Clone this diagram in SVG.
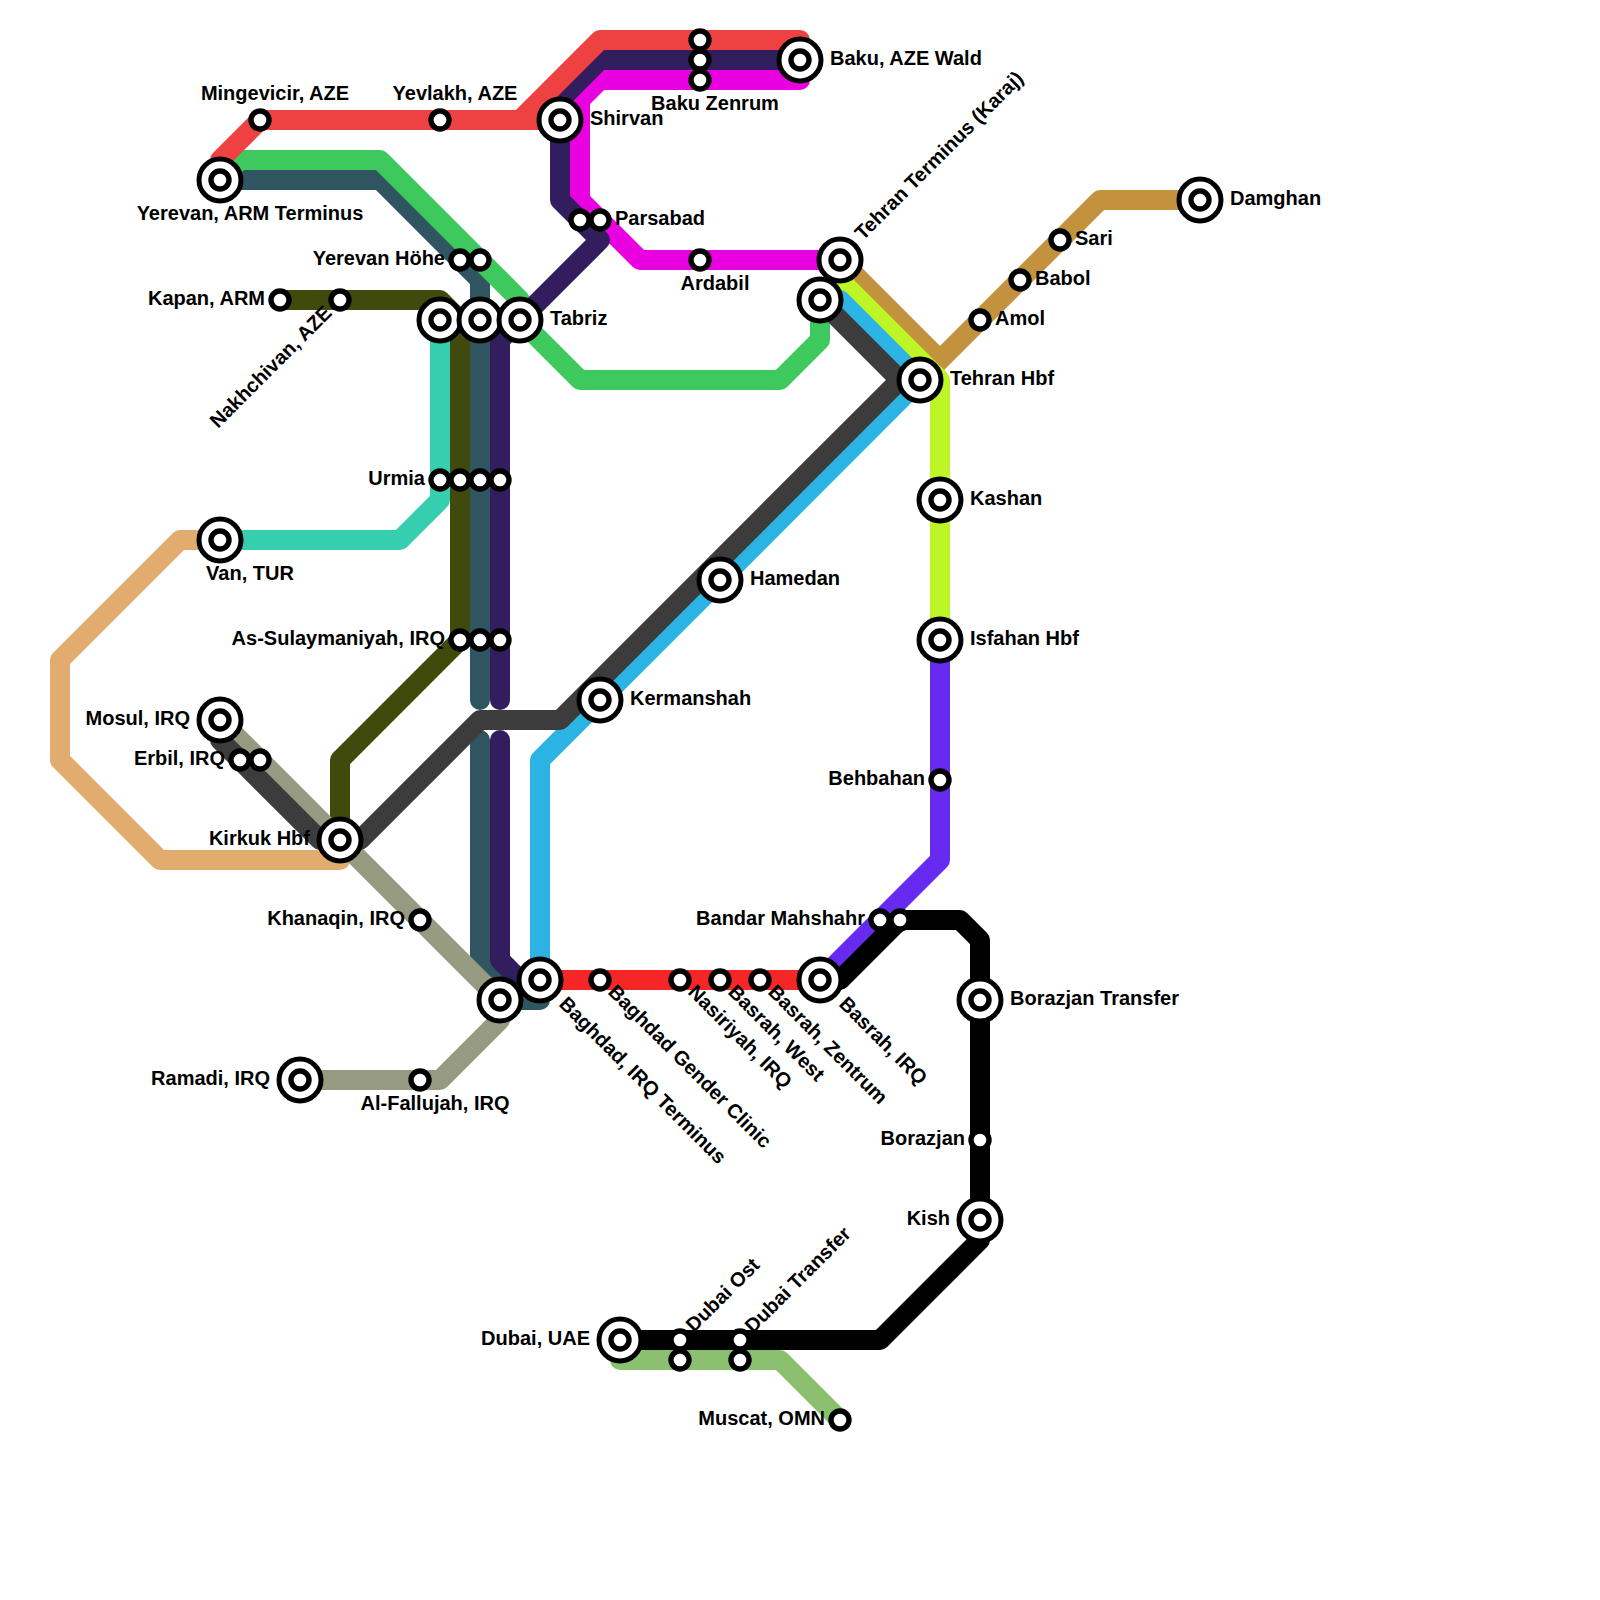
<svg xmlns="http://www.w3.org/2000/svg" width="1600" height="1600" viewBox="0 0 1600 1600">
<style>
.l{fill:none;stroke-width:20;stroke-linecap:round;stroke-linejoin:round}
.o{fill:#fff;stroke:#000;stroke-width:5}
.i{fill:#fff;stroke:#000;stroke-width:5.4}
text{font-family:"Liberation Sans",Arial,sans-serif;font-weight:700;font-size:20px;fill:#000}
.e{text-anchor:end}.c{text-anchor:middle}
</style>
<defs>
<g id="big"><circle class="o" r="21"/><circle class="i" r="9"/></g>
<circle id="small" class="i" r="9"/>
</defs>
<rect width="1600" height="1600" fill="#fff"/>
<g id="connectors">
<path class="l" stroke="#E2AC6E" d="M220 540H180L60 660V760L160 860H340V840"/>
<path class="l" stroke="#35CFAF" d="M440 320V500L400 540H220"/>
<path class="l" stroke="#E900E0" d="M800 60V80H600L580 100V200L640 260H840"/>
<path class="l" stroke="#2F5560" d="M220 180H380L480 280V700"/>
<path class="l" stroke="#2F5560" d="M480 740V960L520 1000H540V980"/>
<path class="l" stroke="#3EC95F" d="M220 180L240 160H380L520 300V320L580 380H780L820 340V300"/>
<path class="l" stroke="#321E5F" d="M800 60H600L560 100V200L600 240L520 320L500 340V700"/>
<path class="l" stroke="#321E5F" d="M500 740V960L520 980H540"/>
<path class="l" stroke="#EE4242" d="M220 180V160L260 120H560M520 120L600 40H800V60"/>
<path class="l" stroke="#3F4A0C" d="M280 300H440L460 320V640L340 760V840"/>
<path class="l" stroke="#959A80" d="M220 720L500 1000V1020L440 1080H300"/>
<path class="l" stroke="#C2923C" d="M840 260L940 360M920 380L1100 200H1200"/>
<path class="l" stroke="#BDF527" d="M840 260V280L920 360L940 380V640"/>
<path class="l" stroke="#2BB3E3" d="M540 980V760L920 380L840 300H820"/>
<path class="l" stroke="#3C3C3C" d="M220 740L320 840H360L480 720H560L900 380H920M820 300L900 380"/>
<path class="l" stroke="#672AF0" d="M940 640V860L820 980"/>
<path class="l" stroke="#F42626" d="M540 980H820"/>
<path class="l" stroke="#8BC06E" d="M620 1340V1360H780L840 1420"/>
<path class="l" stroke="#000" d="M820 980H840L900 920H960L980 940V1240L880 1340H620"/>
</g>
<g id="n-yerevan"><use href="#big" x="220" y="180"/><text x="250" y="220" class="c">Yerevan, ARM Terminus</text></g>
<g id="n-mingevicir"><use href="#small" x="260" y="120"/><text x="275" y="100" class="c">Mingevicir, AZE</text></g>
<g id="n-yevlakh"><use href="#small" x="440" y="120"/><text x="455" y="100" class="c">Yevlakh, AZE</text></g>
<g id="n-shirvan"><use href="#big" x="560" y="120"/><text x="590" y="125">Shirvan</text></g>
<g id="n-baku"><use href="#big" x="800" y="60"/><text x="830" y="65">Baku, AZE Wald</text></g>
<g id="n-baku-zenrum"><use href="#small" x="700" y="40"/><use href="#small" x="700" y="60"/><use href="#small" x="700" y="80"/><text x="715" y="110" class="c">Baku Zenrum</text></g>
<g id="n-parsabad"><use href="#small" x="580" y="220"/><use href="#small" x="600" y="220"/><text x="615" y="225">Parsabad</text></g>
<g id="n-ardabil"><use href="#small" x="700" y="260"/><text x="715" y="290" class="c">Ardabil</text></g>
<g id="n-yerevan-hohe"><use href="#small" x="460" y="260"/><use href="#small" x="480" y="260"/><text x="445" y="265" class="e">Yerevan Höhe</text></g>
<g id="n-kapan"><use href="#small" x="280" y="300"/><text x="265" y="305" class="e">Kapan, ARM</text></g>
<g id="n-nakhchivan"><use href="#small" x="340" y="300"/><text transform="translate(333 314) rotate(-45)" class="e">Nakhchivan, AZE</text></g>
<g id="n-tabriz-group"><use href="#big" x="440" y="320"/><use href="#big" x="480" y="320"/><use href="#big" x="520" y="320"/><text x="550" y="325">Tabriz</text></g>
<g id="n-tehran-terminus"><use href="#big" x="840" y="260"/><text transform="translate(863 241) rotate(-45)">Tehran Terminus (Karaj)</text></g>
<g id="n-tehran-2"><use href="#big" x="820" y="300"/></g>
<g id="n-tehran-hbf"><use href="#big" x="920" y="380"/><text x="950" y="385">Tehran Hbf</text></g>
<g id="n-amol"><use href="#small" x="980" y="320"/><text x="995" y="325">Amol</text></g>
<g id="n-babol"><use href="#small" x="1020" y="280"/><text x="1035" y="285">Babol</text></g>
<g id="n-sari"><use href="#small" x="1060" y="240"/><text x="1075" y="245">Sari</text></g>
<g id="n-damghan"><use href="#big" x="1200" y="200"/><text x="1230" y="205">Damghan</text></g>
<g id="n-kashan"><use href="#big" x="940" y="500"/><text x="970" y="505">Kashan</text></g>
<g id="n-isfahan"><use href="#big" x="940" y="640"/><text x="970" y="645">Isfahan Hbf</text></g>
<g id="n-hamedan"><use href="#big" x="720" y="580"/><text x="750" y="585">Hamedan</text></g>
<g id="n-kermanshah"><use href="#big" x="600" y="700"/><text x="630" y="705">Kermanshah</text></g>
<g id="n-behbahan"><use href="#small" x="940" y="780"/><text x="925" y="785" class="e">Behbahan</text></g>
<g id="n-urmia"><use href="#small" x="440" y="480"/><use href="#small" x="460" y="480"/><use href="#small" x="480" y="480"/><use href="#small" x="500" y="480"/><text x="425" y="485" class="e">Urmia</text></g>
<g id="n-sulaymaniyah"><use href="#small" x="460" y="640"/><use href="#small" x="480" y="640"/><use href="#small" x="500" y="640"/><text x="445" y="645" class="e">As-Sulaymaniyah, IRQ</text></g>
<g id="n-van"><use href="#big" x="220" y="540"/><text x="250" y="580" class="c">Van, TUR</text></g>
<g id="n-mosul"><use href="#big" x="220" y="720"/><text x="190" y="725" class="e">Mosul, IRQ</text></g>
<g id="n-erbil"><use href="#small" x="240" y="760"/><use href="#small" x="260" y="760"/><text x="225" y="765" class="e">Erbil, IRQ</text></g>
<g id="n-kirkuk"><use href="#big" x="340" y="840"/><text x="310" y="845" class="e">Kirkuk Hbf</text></g>
<g id="n-khanaqin"><use href="#small" x="420" y="920"/><text x="405" y="925" class="e">Khanaqin, IRQ</text></g>
<g id="n-ramadi"><use href="#big" x="300" y="1080"/><text x="270" y="1085" class="e">Ramadi, IRQ</text></g>
<g id="n-fallujah"><use href="#small" x="420" y="1080"/><text x="435" y="1110" class="c">Al-Fallujah, IRQ</text></g>
<g id="n-baghdad-2"><use href="#big" x="500" y="1000"/></g>
<g id="n-baghdad"><use href="#big" x="540" y="980"/><text transform="translate(558 1005) rotate(45)">Baghdad, IRQ Terminus</text></g>
<g id="n-baghdad-gender"><use href="#small" x="600" y="980"/><text transform="translate(607 993) rotate(45)">Baghdad Gender Clinic</text></g>
<g id="n-nasiriyah"><use href="#small" x="680" y="980"/><text transform="translate(687 993) rotate(45)">Nasiriyah, IRQ</text></g>
<g id="n-basrah-west"><use href="#small" x="720" y="980"/><text transform="translate(727 993) rotate(45)">Basrah, West</text></g>
<g id="n-basrah-zentrum"><use href="#small" x="760" y="980"/><text transform="translate(767 993) rotate(45)">Basrah, Zentrum</text></g>
<g id="n-basrah"><use href="#big" x="820" y="980"/><text transform="translate(838 1005) rotate(45)">Basrah, IRQ</text></g>
<g id="n-bandar"><use href="#small" x="880" y="920"/><use href="#small" x="900" y="920"/><text x="865" y="925" class="e">Bandar Mahshahr</text></g>
<g id="n-borazjan-transfer"><use href="#big" x="980" y="1000"/><text x="1010" y="1005">Borazjan Transfer</text></g>
<g id="n-borazjan"><use href="#small" x="980" y="1140"/><text x="965" y="1145" class="e">Borazjan</text></g>
<g id="n-kish"><use href="#big" x="980" y="1220"/><text x="950" y="1225" class="e">Kish</text></g>
<g id="n-dubai"><use href="#big" x="620" y="1340"/><text x="590" y="1345" class="e">Dubai, UAE</text></g>
<g id="n-dubai-ost"><use href="#small" x="680" y="1340"/><use href="#small" x="680" y="1360"/><text transform="translate(694 1333) rotate(-45)">Dubai Ost</text></g>
<g id="n-dubai-transfer"><use href="#small" x="740" y="1340"/><use href="#small" x="740" y="1360"/><text transform="translate(753 1334) rotate(-45)">Dubai Transfer</text></g>
<g id="n-muscat"><use href="#small" x="840" y="1420"/><text x="825" y="1425" class="e">Muscat, OMN</text></g>
</svg>
